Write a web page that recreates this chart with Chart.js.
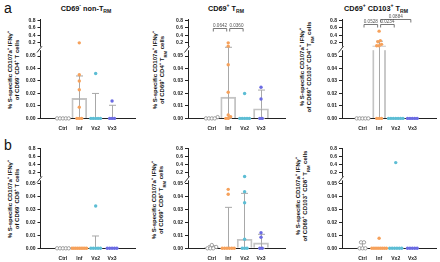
<!DOCTYPE html>
<html>
<head>
<meta charset="utf-8">
<title>S-specific CD107a+ IFNg+ T cells</title>
<script src="https://cdn.jsdelivr.net/npm/chart.js@4.4.1/dist/chart.umd.min.js"></script>
<style>
  body { margin: 0; background: #fff; }
  #fig { position: relative; width: 440px; height: 262px; overflow: hidden; font-family: "Liberation Sans", Arial, sans-serif; color: #111; }
  canvas { position: absolute; }
  .letter { position: absolute; font-size: 14px; line-height: 14px; }
  .ptitle { position: absolute; font-size: 7.3px; font-weight: bold; white-space: nowrap; transform: translate(-50%, -50%); }
  .ytitle { position: absolute; font-size: 6px; font-weight: bold; line-height: 6.6px; white-space: nowrap; text-align: center; transform: translate(-50%, -50%) rotate(-90deg); }
  sup, sub { font-size: 70%; line-height: 0; }
</style>
<script>
// categories and axis ticks
const categories = ['Ctrl', 'Inf', 'Vx2', 'Vx3'];
const lowerTicks = [0, 0.01, 0.02, 0.03, 0.04, 0.05];
const upperTicks = [0.2, 0.4, 0.6, 0.8];

// a) CD4 - values per category: Ctrl, Inf, Vx2, Vx3
const cd4NonTrmValues = [[0, 0, 0, 0, 0], [0.19, 0.035, 0.03, 0.023, 0.009, 0, 0, 0], [0.036, 0, 0, 0, 0, 0], [0.014, 0, 0, 0]];
const cd4NonTrmMedian = [0, 0.016, 0, 0];
const cd4NonTrmQ1 = [0, 0, 0, 0];
const cd4NonTrmQ3 = [0, 0.034, 0.02, 0.0105];

const cd4TrmValues = [[0.001, 0, 0, 0, 0], [0.19, 0.1, 0.043, 0.021, 0.0027, 0.0014, 0, 0], [0.02, 0, 0, 0, 0, 0], [0.025, 0.0155, 0, 0]];
const cd4TrmMedian = [0, 0.017, 0, 0.0077];
const cd4TrmQ1 = [0, 0, 0, 0];
const cd4TrmQ3 = [0, 0.07, 0, 0.0227];
const cd4TrmPairs = [[0, 1], [1, 2]];
const cd4TrmPvalues = ['0.0642', '0.0360'];

const cd4Cd103Values = [[0, 0, 0, 0, 0], [0.51, 0.25, 0.22, 0.15, 0.11, 0.11, 0, 0, 0], [0, 0, 0, 0, 0, 0, 0], [0, 0, 0, 0, 0]];
const cd4Cd103Median = [0, 0.11, 0, 0];
const cd4Cd103Q1 = [0, 0, 0, 0];
const cd4Cd103Q3 = [0, 0.235, 0, 0];
const cd4Cd103Pairs = [[0, 1], [1, 2], [1, 3]];
const cd4Cd103Pvalues = ['0.0528', '0.0234', '0.0884'];

// b) CD8
const cd8NonTrmValues = [[0, 0, 0, 0, 0], [0, 0, 0, 0, 0, 0, 0, 0, 0], [0.0326, 0, 0, 0, 0, 0], [0, 0, 0, 0, 0]];
const cd8NonTrmMedian = [0, 0, 0, 0];
const cd8NonTrmQ1 = [0, 0, 0, 0];
const cd8NonTrmQ3 = [0, 0, 0.0095, 0];

const cd8TrmValues = [[0.0025, 0.001, 0, 0, 0], [0.0455, 0.0417, 0, 0, 0, 0, 0, 0], [0.09, 0.0437, 0.0352, 0.007, 0, 0, 0], [0.012, 0.0085, 0, 0]];
const cd8TrmMedian = [0.0008, 0, 0.007, 0.0042];
const cd8TrmQ1 = [0, 0, 0, 0];
const cd8TrmQ3 = [0.002, 0.0316, 0.0424, 0.0108];

const cd8Cd103Values = [[0.0046, 0.0046, 0, 0, 0], [0.0077, 0, 0, 0, 0, 0, 0, 0, 0], [0.45, 0, 0, 0, 0, 0, 0], [0, 0, 0, 0, 0]];
const cd8Cd103Median = [0, 0, 0, 0];
const cd8Cd103Q1 = [0, 0, 0, 0];
const cd8Cd103Q3 = [0.0046, 0, 0, 0];

const catColors = ['#8c8c8c', '#f6a15b', '#5cbdd4', '#6b6be3'];
</script>
</head>
<body>
<div id="fig">
  <div class="letter" style="left:4px;top:1px">a</div>
  <div class="letter" style="left:4px;top:138px">b</div>

  <div class="ptitle" style="left:86px;top:8px">CD69<sup>-</sup> non-T<sub>RM</sub></div>
  <div class="ptitle" style="left:226px;top:8px">CD69<sup>+</sup> T<sub>RM</sub></div>
  <div class="ptitle" style="left:376px;top:8px">CD69<sup>+</sup> CD103<sup>+</sup> T<sub>RM</sub></div>

  <div class="ytitle" style="left:14px;top:70px">% S-specific CD107a<sup>+</sup> IFNγ<sup>+</sup><br>of CD69<sup>-</sup> CD4<sup>+</sup> T cells</div>
  <div class="ytitle" style="left:158.5px;top:70px">% S-specific CD107a<sup>+</sup> IFNγ<sup>+</sup><br>of CD69<sup>+</sup> CD4<sup>+</sup> T<sub>RM</sub> cells</div>
  <div class="ytitle" style="left:306px;top:67px">% S-specific CD107a<sup>+</sup> IFNγ<sup>+</sup><br>of CD69<sup>+</sup> CD103<sup>+</sup> CD4<sup>+</sup> T<sub>RM</sub> cells</div>
  <div class="ytitle" style="left:13.5px;top:199px">% S-specific CD107a<sup>+</sup> IFNγ<sup>+</sup><br>of CD69<sup>-</sup> CD8<sup>+</sup> T cells</div>
  <div class="ytitle" style="left:158px;top:200px">% S-specific CD107a<sup>+</sup> IFNγ<sup>+</sup><br>of CD69<sup>+</sup> CD8<sup>+</sup> T<sub>RM</sub> cells</div>
  <div class="ytitle" style="left:302px;top:196px">% S-specific CD107a<sup>+</sup> IFNγ<sup>+</sup><br>of CD69<sup>+</sup> CD103<sup>+</sup> CD8<sup>+</sup> T<sub>RM</sub> cells</div>
</div>

<script>
Chart.defaults.font.family = '"Liberation Sans", Arial, sans-serif';

// page geometry of the columns and rows
const col1 = { axisX: 40.5, firstX: 55, step: 22.5, endX: 138, barW: 15 };
const col2 = { axisX: 188, firstX: 204, step: 22.5, endX: 288, barW: 15 };
const col3 = { axisX: 342, firstX: 354, step: 22.8, endX: 439, barW: 13 };
const rowA = { top: 0, h: 131, y08: 20.5, y02: 42.5, y005: 56, y0: 118.4 };
const rowB = { top: 130, h: 132, y08: 149, y02: 172.3, y005: 183.5, y0: 248.3 };

const panels = [
    { col: col1, row: rowA, values: cd4NonTrmValues, median: cd4NonTrmMedian, q1: cd4NonTrmQ1, q3: cd4NonTrmQ3, pairs: [], pvals: [], levels: [] },
    { col: col2, row: rowA, values: cd4TrmValues, median: cd4TrmMedian, q1: cd4TrmQ1, q3: cd4TrmQ3, pairs: cd4TrmPairs, pvals: cd4TrmPvalues, levels: [0.587, 0.587] },
    { col: col3, row: rowA, values: cd4Cd103Values, median: cd4Cd103Median, q1: cd4Cd103Q1, q3: cd4Cd103Q3, pairs: cd4Cd103Pairs, pvals: cd4Cd103Pvalues, levels: [0.696, 0.696, 0.84] },
    { col: col1, row: rowB, values: cd8NonTrmValues, median: cd8NonTrmMedian, q1: cd8NonTrmQ1, q3: cd8NonTrmQ3, pairs: [], pvals: [], levels: [] },
    { col: col2, row: rowB, values: cd8TrmValues, median: cd8TrmMedian, q1: cd8TrmQ1, q3: cd8TrmQ3, pairs: [], pvals: [], levels: [] },
    { col: col3, row: rowB, values: cd8Cd103Values, median: cd8Cd103Median, q1: cd8Cd103Q1, q3: cd8Cd103Q3, pairs: [], pvals: [], levels: [] }
];

// spread points that sit on the same height side by side (like a scatter dot plot)
function swarm(values, cat, pixOf, gapPx, maxWidth, step) {
    const order = values.map((v, k) => k).sort((a, b) => values[a] - values[b]);
    const out = new Array(values.length);
    let group = [];
    let startPix = 0;
    const flush = () => {
        const n = group.length;
        const dx = n > 1 ? Math.min(gapPx, maxWidth / (n - 1)) : 0;
        group.forEach((k, j) => { out[k] = cat + (j - (n - 1) / 2) * dx / step; });
        group = [];
    };
    order.forEach(k => {
        const p = pixOf(values[k]);
        if (group.length && Math.abs(p - startPix) > 2.6) flush();
        if (!group.length) startPix = p;
        group.push(k);
    });
    flush();
    return out;
}

function makePanel(p) {
    const c = p.col, r = p.row;
    const pxTop = (r.y02 - r.y08) / 0.6;
    const pxBot = (r.y0 - r.y005) / 0.05;
    const cutY = r.y02 + 0.15 * pxTop;
    const topEndY = r.y08 - 0.02 * pxTop;
    const botMax = 0.05 + (r.y005 - cutY) / pxBot;
    const left = Math.floor(c.axisX - 16);
    const width = Math.ceil(c.endX + 2) - left;
    const yW = c.axisX - left;
    const xH = r.h - (r.y0 - r.top);

    const cv = document.createElement('canvas');
    cv.width = width;
    cv.height = r.h;
    cv.style.left = left + 'px';
    cv.style.top = r.top + 'px';
    document.getElementById('fig').appendChild(cv);

    const approxPix = v => v <= botMax ? r.y0 - v * pxBot : cutY - (v - 0.05) * pxTop;

    const datasets = [
        {
            type: 'bar', role: 'barBot', yAxisID: 'yBot', order: 3, grouped: false, barThickness: c.barW,
            data: p.median.map((m, i) => ({ x: i, y: [0, Math.min(m, botMax)] })).filter(d => d.y[1] > 0),
            backgroundColor: 'rgba(255,255,255,0)', borderColor: '#c4c4c4', borderWidth: 1.2, borderSkipped: 'start'
        },
        {
            type: 'bar', role: 'barTop', yAxisID: 'yTop', order: 2, grouped: false, barThickness: c.barW,
            data: p.median.map((m, i) => ({ x: i, y: [0.05, m] })).filter(d => d.y[1] > botMax),
            backgroundColor: 'rgba(255,255,255,0)', borderColor: '#c4c4c4', borderWidth: 1.2, borderSkipped: 'start'
        }
    ];

    p.values.forEach((vals, i) => {
        const isCtrl = i === 0;
        const xs = swarm(vals, i, approxPix, isCtrl ? 4 : 3.3, isCtrl ? 17 : 20, c.step);
        const low = [], high = [];
        vals.forEach((v, k) => (v <= botMax ? low : high).push({ x: xs[k], y: v }));
        [[low, 'yBot'], [high, 'yTop']].forEach(([pts, axis]) => {
            if (!pts.length) return;
            datasets.push({
                type: 'scatter', yAxisID: axis, order: 0, clip: false, data: pts,
                pointRadius: 1.7,
                pointBackgroundColor: isCtrl ? '#fff' : catColors[i],
                pointBorderColor: catColors[i],
                pointBorderWidth: isCtrl ? 0.8 : 0
            });
        });
    });

    const extras = {
        id: 'extras',
        afterDatasetDraw(chart, args) {
            if (chart.data.datasets[args.index].role !== 'barTop') return;
            const { ctx, chartArea, scales } = chart;
            const cut = scales.yTop.bottom;
            const pix = v => v <= botMax ? scales.yBot.getPixelForValue(v) : scales.yTop.getPixelForValue(v);
            ctx.save();
            // gap of the broken axis through the bars
            ctx.fillStyle = '#fff';
            ctx.fillRect(chartArea.left + 1, cut - 1.3, chartArea.right - chartArea.left, 3.5);
            // median with interquartile range
            ctx.strokeStyle = '#a8a8a8';
            ctx.lineWidth = 1;
            p.median.forEach((m, i) => {
                const x = Math.round(scales.x.getPixelForValue(i) - 0.5) + 0.5;
                const ym = pix(m);
                [p.q1[i], p.q3[i]].forEach(e => {
                    if (e === m) return;
                    const ye = pix(e);
                    ctx.beginPath();
                    ctx.moveTo(x, ym);
                    ctx.lineTo(x, ye);
                    ctx.moveTo(x - 3.5, ye);
                    ctx.lineTo(x + 3.5, ye);
                    ctx.stroke();
                });
            });
            ctx.restore();
        },
        afterDraw(chart) {
            const { ctx, chartArea, scales } = chart;
            const ax = chartArea.left;
            const cut = scales.yTop.bottom;
            ctx.save();
            ctx.fillStyle = '#fff';
            ctx.fillRect(ax - 1.5, cut - 1.3, 3, 3.5);
            ctx.strokeStyle = '#222';
            ctx.lineWidth = 0.9;
            ctx.beginPath();
            ctx.moveTo(ax - 3.5, cut + 4.5);
            ctx.lineTo(ax + 1.5, cut - 1.8);
            ctx.stroke();

            // significance brackets
            ctx.strokeStyle = '#555';
            ctx.fillStyle = '#555';
            ctx.lineWidth = 0.8;
            ctx.font = '4.6px "Liberation Sans", Arial, sans-serif';
            ctx.textAlign = 'center';
            ctx.textBaseline = 'alphabetic';
            p.pairs.forEach(([a, b], k) => {
                const xs = scales.x.getPixelForValue(a) + 1.5;
                const xe = scales.x.getPixelForValue(b) - 1.5;
                const y = Math.round(scales.yTop.getPixelForValue(p.levels[k])) + 0.5;
                ctx.beginPath();
                ctx.moveTo(xs, y + 3);
                ctx.lineTo(xs, y);
                ctx.lineTo(xe, y);
                ctx.lineTo(xe, y + 3);
                ctx.stroke();
                ctx.fillText(p.pvals[k], (xs + xe) / 2, y - 1.2);
            });
            ctx.restore();
        }
    };

    const tickFont = { size: 5, weight: 'bold' };

    new Chart(cv, {
        type: 'bar',
        data: { datasets: datasets },
        options: {
            responsive: false,
            animation: false,
            events: [],
            layout: { padding: { top: topEndY - r.top, right: width - (c.endX - left), left: 0, bottom: 0 } },
            plugins: { legend: { display: false }, tooltip: { enabled: false } },
            scales: {
                x: {
                    type: 'linear', position: 'bottom',
                    min: -(c.firstX - c.axisX) / c.step,
                    max: (c.endX - c.firstX) / c.step,
                    afterBuildTicks: s => { s.ticks = categories.map((_, i) => ({ value: i })); },
                    afterFit: s => { s.height = xH; },
                    grid: { drawOnChartArea: false, drawTicks: false },
                    border: { color: '#222', width: 1 },
                    ticks: { callback: v => categories[v], padding: 7, font: tickFont, color: '#222', maxRotation: 0, autoSkip: false }
                },
                yBot: {
                    type: 'linear', position: 'left', stack: 'v', stackWeight: r.y0 - cutY,
                    min: 0, max: botMax,
                    afterBuildTicks: s => { s.ticks = lowerTicks.map(v => ({ value: v })); },
                    afterFit: s => { s.width = yW; },
                    grid: { drawOnChartArea: false, drawTicks: true, tickLength: 3, color: '#222' },
                    border: { color: '#222', width: 1 },
                    ticks: { callback: v => v.toFixed(2), padding: 2, font: tickFont, color: '#222', autoSkip: false }
                },
                yTop: {
                    type: 'linear', position: 'left', stack: 'v', stackWeight: cutY - topEndY,
                    min: 0.05, max: 0.82,
                    afterBuildTicks: s => { s.ticks = upperTicks.map(v => ({ value: v })); },
                    afterFit: s => { s.width = yW; },
                    grid: { drawOnChartArea: false, drawTicks: true, tickLength: 3, color: '#222' },
                    border: { color: '#222', width: 1 },
                    ticks: { callback: v => v.toFixed(1), padding: 2, font: tickFont, color: '#222', autoSkip: false }
                }
            }
        },
        plugins: [extras]
    });
}

panels.forEach(makePanel);
</script>
</body>
</html>
